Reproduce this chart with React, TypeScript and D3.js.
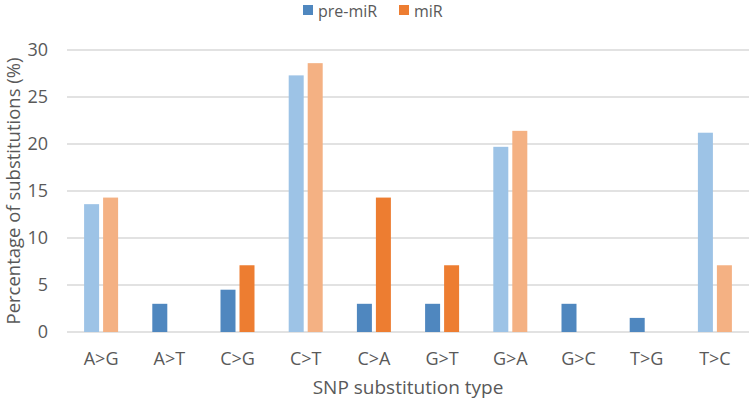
import React from 'react';
import * as d3 from 'd3';

const categories = ['A>G', 'A>T', 'C>G', 'C>T', 'C>A', 'G>T', 'G>A', 'G>C', 'T>G', 'T>C'];
const preMiR = [13.6, 3.0, 4.5, 27.3, 3.0, 3.0, 19.7, 3.0, 1.5, 21.2];
const miR = [14.3, 0, 7.1, 28.6, 14.3, 7.1, 21.4, 0, 0, 7.1];
const transitions = ['A>G', 'C>T', 'G>A', 'T>C'];
const yTicks = [0, 5, 10, 15, 20, 25, 30];
const seriesNames = ['pre-miR', 'miR'];

const W = 749;
const H = 401;
const margin = { top: 50, right: 0, bottom: 69, left: 67 };
const FONT = '"Open Sans", sans-serif';
const TEXT = '#595959';

const colors = {
  pre: { dark: '#4f87bf', light: '#9dc3e6' },
  mir: { dark: '#ed7d31', light: '#f4b183' },
};

export default function App() {
  const x = d3.scaleBand<string>()
    .domain(categories)
    .range([margin.left, W - margin.right]);

  const y = d3.scaleLinear()
    .domain([0, 30])
    .range([H - margin.bottom, margin.top]);

  const barW = 15;
  const gap = 4;

  return (
    <svg width={W} height={H} style={{ position: 'absolute', left: 0, top: 0, background: '#fff' }}>
      {/* gridlines */}
      {yTicks.map(t => (
        <line key={t} x1={margin.left} x2={W - margin.right} y1={y(t)} y2={y(t)}
          stroke="#d9d9d9" strokeWidth={1.3} />
      ))}

      {/* bars */}
      {categories.map((c, i) => {
        const cx = x(c)! + x.bandwidth() / 2;
        const light = transitions.includes(c);
        return (
          <g key={c}>
            <rect x={cx - gap / 2 - barW} y={y(preMiR[i])} width={barW} height={y(0) - y(preMiR[i])}
              fill={light ? colors.pre.light : colors.pre.dark} />
            <rect x={cx + gap / 2} y={y(miR[i])} width={barW} height={y(0) - y(miR[i])}
              fill={light ? colors.mir.light : colors.mir.dark} />
          </g>
        );
      })}

      {/* y tick labels */}
      {yTicks.map(t => (
        <text key={t} x={48} y={y(t)} dy="0.35em" textAnchor="end"
          fontFamily={FONT} fontSize={18} fill={TEXT}>{t}</text>
      ))}

      {/* x tick labels */}
      {categories.map(c => (
        <text key={c} x={x(c)! + x.bandwidth() / 2} y={359} dy="0.35em" textAnchor="middle"
          fontFamily={FONT} fontSize={18} fill={TEXT}>{c}</text>
      ))}

      {/* axis titles */}
      <text x={(margin.left + W - margin.right) / 2} y={394} textAnchor="middle"
        fontFamily={FONT} fontSize={19} fill={TEXT}>SNP substitution type</text>
      <text transform={`translate(20, ${(y(0) + y(30)) / 2}) rotate(-90)`} textAnchor="middle"
        fontFamily={FONT} fontSize={18.5} fill={TEXT}>Percentage of substitutions (%)</text>

      {/* legend */}
      <g>
        <rect x={303} y={5} width={10} height={10} fill={colors.pre.dark} />
        <text x={318} y={17} fontFamily={FONT} fontSize={16} fill={TEXT}>{seriesNames[0]}</text>
        <rect x={399} y={5} width={10} height={10} fill={colors.mir.dark} />
        <text x={414} y={17} fontFamily={FONT} fontSize={16} fill={TEXT}>{seriesNames[1]}</text>
      </g>
    </svg>
  );
}
